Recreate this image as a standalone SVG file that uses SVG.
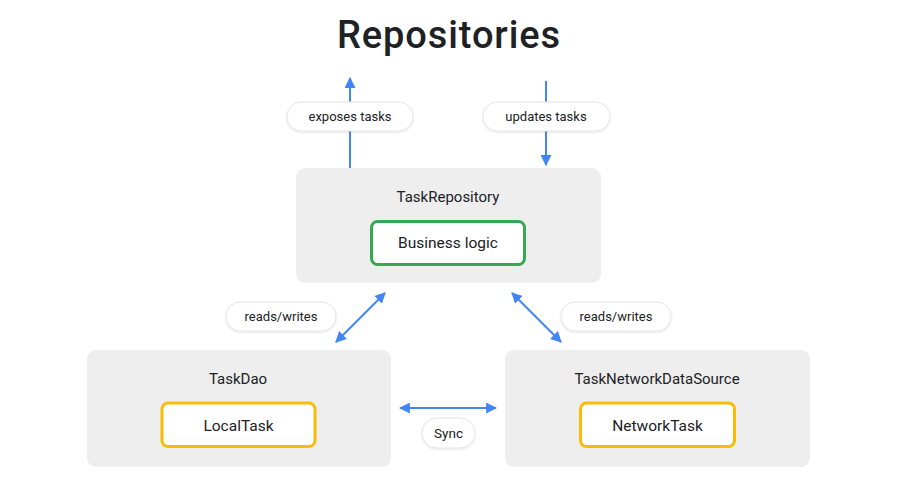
<svg xmlns="http://www.w3.org/2000/svg" width="900" height="481" viewBox="0 0 900 481">
  <defs>
    <marker id="ah" viewBox="0 0 10 10" refX="9" refY="5" markerWidth="11" markerHeight="11" markerUnits="userSpaceOnUse" orient="auto-start-reverse">
      <path d="M0,0 L10,5 L0,10 z" fill="#4285F4"/>
    </marker>
    <filter id="sh" x="-20%" y="-30%" width="140%" height="160%">
      <feDropShadow dx="0" dy="1" stdDeviation="1" flood-color="#000" flood-opacity="0.12"/>
    </filter>
  </defs>
  <style>
    text { font-family: Roboto, "Open Sans", "Liberation Sans", sans-serif; fill: #202124; text-anchor: middle; }
    .title { font-size: 38px; font-weight: 500; letter-spacing: 0.9px; }
    .node { fill: #EEEEEE; }
    .lbl { font-size: 15px; }
    .inner { fill: #FFFFFF; stroke-width: 3; }
    .green { stroke: #34A853; }
    .orange { stroke: #FBBC04; }
    .itxt { font-size: 15.5px; }
    .pill { fill: #FFFFFF; stroke: #E6E6E6; stroke-width: 1; filter: url(#sh); }
    .ptxt { font-size: 13px; }
    .conn { stroke: #4285F4; stroke-width: 2; fill: none; }
  </style>
  <rect width="900" height="481" fill="#FFFFFF"/>
  <text class="title" x="449" y="48">Repositories</text>

  <g id="connectors">
    <line class="conn" x1="350" y1="168" x2="350" y2="78" marker-end="url(#ah)"/>
    <line class="conn" x1="546" y1="81" x2="546" y2="165" marker-end="url(#ah)"/>
    <line class="conn" x1="336" y1="342" x2="385" y2="293" marker-start="url(#ah)" marker-end="url(#ah)"/>
    <line class="conn" x1="512" y1="293" x2="561" y2="342" marker-start="url(#ah)" marker-end="url(#ah)"/>
    <line class="conn" x1="400" y1="408" x2="496" y2="408" marker-start="url(#ah)" marker-end="url(#ah)"/>
    <g id="labels">
      <rect class="pill" x="287" y="102" width="126" height="29" rx="14.5"/>
      <text class="ptxt" x="350" y="121">exposes tasks</text>
      <rect class="pill" x="483" y="102" width="127" height="29" rx="14.5"/>
      <text class="ptxt" x="546" y="121">updates tasks</text>
      <rect class="pill" x="226" y="302" width="110" height="29" rx="14.5"/>
      <text class="ptxt" x="281" y="321">reads/writes</text>
      <rect class="pill" x="561" y="302" width="110" height="29" rx="14.5"/>
      <text class="ptxt" x="616" y="321">reads/writes</text>
      <rect class="pill" x="422" y="418" width="53" height="30" rx="15"/>
      <text class="ptxt" x="448.5" y="437.5" style="font-size:13.5px">Sync</text>
    </g>
  </g>

  <g id="TaskRepository">
    <rect class="node" x="296" y="168" width="305" height="115" rx="9"/>
    <text class="lbl" x="448" y="202">TaskRepository</text>
    <rect class="inner green" x="371.5" y="221.5" width="153" height="43" rx="6"/>
    <text class="itxt" x="448" y="248">Business logic</text>
  </g>

  <g id="TaskDao">
    <rect class="node" x="87" y="350" width="304" height="117" rx="9"/>
    <text class="lbl" x="238" y="383.5">TaskDao</text>
    <rect class="inner orange" x="162" y="403" width="153" height="43.5" rx="6"/>
    <text class="itxt" x="238.5" y="430.5">LocalTask</text>
  </g>

  <g id="TaskNetworkDataSource">
    <rect class="node" x="505" y="350" width="305" height="117" rx="9"/>
    <text class="lbl" x="657" y="383.5">TaskNetworkDataSource</text>
    <rect class="inner orange" x="580.5" y="403" width="154" height="43.5" rx="6"/>
    <text class="itxt" x="657.5" y="430.5">NetworkTask</text>
  </g>
</svg>
